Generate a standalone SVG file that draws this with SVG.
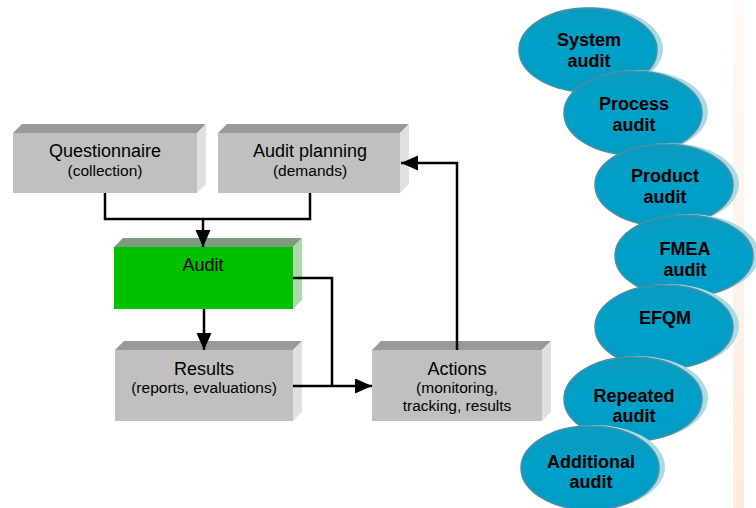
<svg xmlns="http://www.w3.org/2000/svg" width="756" height="508" viewBox="0 0 756 508">
<defs>
<linearGradient id="band" x1="0" y1="0" x2="0" y2="1">
<stop offset="0" stop-color="#fffaf7"/>
<stop offset="1" stop-color="#fdebdd"/>
</linearGradient>
<linearGradient id="ell" x1="0" y1="0" x2="0" y2="1">
<stop offset="0" stop-color="#0a9cc0"/>
<stop offset="0.5" stop-color="#00a0c8"/>
<stop offset="1" stop-color="#009cc4"/>
</linearGradient>
<marker id="arr" markerUnits="userSpaceOnUse" markerWidth="18" markerHeight="16" refX="17" refY="7.5" orient="auto">
<path d="M0,0 L17,7.5 L0,15 z" fill="#000"/>
</marker>
<style>
.front{fill:#c0c0c0}
.top{fill:#999999}
.side{fill:#e0e0e0}
.gfront{fill:#00c000}
.gtop{fill:#7c9c7c}
.gside{fill:#aadcaa}
.t1{font-family:"Liberation Sans",Arial,sans-serif;font-size:18px;fill:#000;text-anchor:middle}
.t2{font-family:"Liberation Sans",Arial,sans-serif;font-size:15.5px;fill:#000;text-anchor:middle}
.et{font-family:"Liberation Sans",Arial,sans-serif;font-size:18px;font-weight:bold;fill:#000;text-anchor:middle}
.halo{fill:#a8dbe3}
.ebody{fill:url(#ell);stroke:#4a8fa5;stroke-width:1.5}
.conn{fill:none;stroke:#000;stroke-width:2.5}
</style>
</defs>
<rect x="733" y="0" width="11" height="508" fill="url(#band)"/>

<g id="questionnaire">
<polygon class="top" points="13,133 22,124 206,124 197,133"/>
<polygon class="side" points="197,133 206,124 206,184 197,193"/>
<rect class="front" x="13" y="133" width="184" height="60"/>
<text class="t1" x="105" y="157">Questionnaire</text>
<text class="t2" x="105" y="176">(collection)</text>
</g>

<g id="audit-planning">
<polygon class="top" points="218,133 227,124 409,124 400,133"/>
<polygon class="side" points="400,133 409,124 409,184 400,193"/>
<rect class="front" x="218" y="133" width="182" height="60"/>
<text class="t1" x="310" y="157">Audit planning</text>
<text class="t2" x="310" y="176">(demands)</text>
</g>

<g id="audit">
<polygon class="gtop" points="114,247 123,238 302,238 293,247"/>
<polygon class="gside" points="293,247 302,238 302,300 293,309"/>
<rect class="gfront" x="114" y="247" width="179" height="62"/>
<text class="t1" x="203" y="271">Audit</text>
</g>

<g id="results">
<polygon class="top" points="115,350 124,341 302,341 293,350"/>
<polygon class="side" points="293,350 302,341 302,412 293,421"/>
<rect class="front" x="115" y="350" width="178" height="71"/>
<text class="t1" x="204" y="375">Results</text>
<text class="t2" x="204" y="393">(reports, evaluations)</text>
</g>

<g id="actions">
<polygon class="top" points="372,350 381,341 551,341 542,350"/>
<polygon class="side" points="542,350 551,341 551,412 542,421"/>
<rect class="front" x="372" y="350" width="170" height="71"/>
<text class="t1" x="457" y="375">Actions</text>
<text class="t2" x="457" y="393">(monitoring,</text>
<text class="t2" x="457" y="411">tracking, results</text>
</g>

<g id="connectors">
<path class="conn" d="M105,193 V219 H310 V193"/>
<path class="conn" d="M203,218 V247" marker-end="url(#arr)"/>
<path class="conn" d="M204,309 V350" marker-end="url(#arr)"/>
<path class="conn" d="M293,278 H332 V386"/>
<path class="conn" d="M293,386 H372" marker-end="url(#arr)"/>
<path class="conn" d="M457,350 V163 H401" marker-end="url(#arr)"/>
</g>

<g id="system-audit">
<ellipse class="halo" cx="593" cy="49" rx="70" ry="42"/>
<ellipse class="ebody" cx="588" cy="50" rx="69" ry="42"/>
<text class="et" x="589" y="46">System</text>
<text class="et" x="589" y="67">audit</text>
</g>
<g id="process-audit">
<ellipse class="halo" cx="638" cy="112" rx="70" ry="42"/>
<ellipse class="ebody" cx="633" cy="113" rx="69" ry="42"/>
<text class="et" x="634" y="110">Process</text>
<text class="et" x="634" y="131">audit</text>
</g>
<g id="product-audit">
<ellipse class="halo" cx="669" cy="184" rx="70" ry="41"/>
<ellipse class="ebody" cx="664" cy="185" rx="69" ry="41"/>
<text class="et" x="665" y="182">Product</text>
<text class="et" x="665" y="203">audit</text>
</g>
<g id="fmea-audit">
<ellipse class="halo" cx="689" cy="255" rx="70" ry="41"/>
<ellipse class="ebody" cx="684" cy="256" rx="69" ry="41"/>
<text class="et" x="685" y="255">FMEA</text>
<text class="et" x="685" y="276">audit</text>
</g>
<g id="efqm">
<ellipse class="halo" cx="669" cy="326" rx="70" ry="42"/>
<ellipse class="ebody" cx="664" cy="327" rx="69" ry="42"/>
<text class="et" x="665" y="324">EFQM</text>
</g>
<g id="repeated-audit">
<ellipse class="halo" cx="638" cy="398" rx="70" ry="42"/>
<ellipse class="ebody" cx="633" cy="399" rx="69" ry="42"/>
<text class="et" x="634" y="402">Repeated</text>
<text class="et" x="634" y="422">audit</text>
</g>
<g id="additional-audit">
<ellipse class="halo" cx="595" cy="467" rx="70" ry="42"/>
<ellipse class="ebody" cx="590" cy="468" rx="69" ry="42"/>
<text class="et" x="591" y="468">Additional</text>
<text class="et" x="591" y="488">audit</text>
</g>
</svg>
